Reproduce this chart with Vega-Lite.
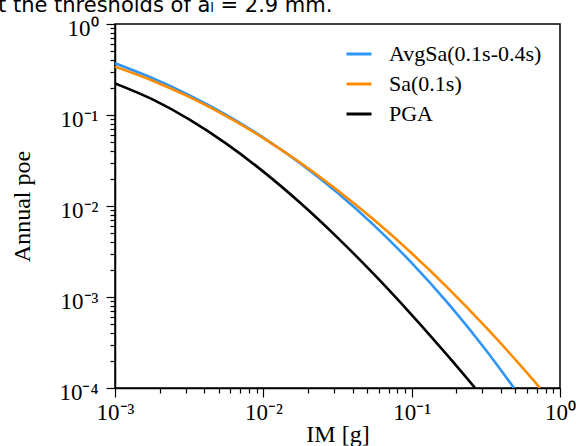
{
  "$schema": "https://vega.github.io/schema/vega-lite/v6.json",
  "width": 445,
  "height": 364,
  "autosize": {"type": "none"},
  "padding": {"left": 115, "top": 24, "right": 16, "bottom": 58},
  "background": "white",
  "title": {
    "text": "t the thresholds of aₗ = 2.9 mm.",
    "anchor": "start",
    "frame": "group",
    "orient": "top",
    "offset": 0,
    "baseline": "alphabetic",
    "dx": -117,
    "dy": 16,
    "font": "DejaVu Sans",
    "fontSize": 21,
    "fontWeight": "normal",
    "color": "black"
  },
  "config": {
    "view": {"stroke": "black", "strokeWidth": 1.5}
  },
  "data": {
    "values": [
      {"im": 0.001, "poe": 0.3698, "series": "AvgSa(0.1s-0.4s)"},
      {"im": 0.001778, "poe": 0.2548, "series": "AvgSa(0.1s-0.4s)"},
      {"im": 0.003162, "poe": 0.1653, "series": "AvgSa(0.1s-0.4s)"},
      {"im": 0.005623, "poe": 0.1002, "series": "AvgSa(0.1s-0.4s)"},
      {"im": 0.01, "poe": 0.05642, "series": "AvgSa(0.1s-0.4s)"},
      {"im": 0.01778, "poe": 0.02931, "series": "AvgSa(0.1s-0.4s)"},
      {"im": 0.03162, "poe": 0.01395, "series": "AvgSa(0.1s-0.4s)"},
      {"im": 0.05623, "poe": 0.006045, "series": "AvgSa(0.1s-0.4s)"},
      {"im": 0.1, "poe": 0.002368, "series": "AvgSa(0.1s-0.4s)"},
      {"im": 0.1778, "poe": 0.0008331, "series": "AvgSa(0.1s-0.4s)"},
      {"im": 0.3162, "poe": 0.0002615, "series": "AvgSa(0.1s-0.4s)"},
      {"im": 0.4898, "poe": 0.0001, "series": "AvgSa(0.1s-0.4s)"},
      {"im": 0.001, "poe": 0.3396, "series": "Sa(0.1s)"},
      {"im": 0.001778, "poe": 0.2398, "series": "Sa(0.1s)"},
      {"im": 0.003162, "poe": 0.1580, "series": "Sa(0.1s)"},
      {"im": 0.005623, "poe": 0.09711, "series": "Sa(0.1s)"},
      {"im": 0.01, "poe": 0.05572, "series": "Sa(0.1s)"},
      {"im": 0.01778, "poe": 0.02984, "series": "Sa(0.1s)"},
      {"im": 0.03162, "poe": 0.01491, "series": "Sa(0.1s)"},
      {"im": 0.05623, "poe": 0.006954, "series": "Sa(0.1s)"},
      {"im": 0.1, "poe": 0.003027, "series": "Sa(0.1s)"},
      {"im": 0.1778, "poe": 0.001230, "series": "Sa(0.1s)"},
      {"im": 0.3162, "poe": 0.0004661, "series": "Sa(0.1s)"},
      {"im": 0.5623, "poe": 0.0001650, "series": "Sa(0.1s)"},
      {"im": 0.7328, "poe": 0.0001, "series": "Sa(0.1s)"},
      {"im": 0.001, "poe": 0.2228, "series": "PGA"},
      {"im": 0.001778, "poe": 0.1493, "series": "PGA"},
      {"im": 0.003162, "poe": 0.08953, "series": "PGA"},
      {"im": 0.005623, "poe": 0.04848, "series": "PGA"},
      {"im": 0.01, "poe": 0.02387, "series": "PGA"},
      {"im": 0.01778, "poe": 0.01078, "series": "PGA"},
      {"im": 0.03162, "poe": 0.004497, "series": "PGA"},
      {"im": 0.05623, "poe": 0.001748, "series": "PGA"},
      {"im": 0.1, "poe": 0.0006372, "series": "PGA"},
      {"im": 0.1778, "poe": 0.0002198, "series": "PGA"},
      {"im": 0.2679, "poe": 0.0001, "series": "PGA"}
    ]
  },
  "mark": {"type": "line", "strokeWidth": 2.6, "interpolate": "monotone", "clip": true},
  "encoding": {
    "x": {
      "field": "im",
      "type": "quantitative",
      "scale": {"type": "log", "domain": [0.001, 1], "nice": false},
      "axis": {
        "values": [0.001, 0.002, 0.003, 0.004, 0.005, 0.006, 0.007, 0.008, 0.009, 0.01, 0.02, 0.03, 0.04, 0.05, 0.06, 0.07, 0.08, 0.09, 0.1, 0.2, 0.3, 0.4, 0.5, 0.6, 0.7, 0.8, 0.9, 1],
        "labelExpr": "abs(log(datum.value)/LN10 - round(log(datum.value)/LN10)) < 0.001 ? ('10' + (datum.value >= 0.5 ? '⁰' : datum.value >= 0.05 ? '⁻¹' : datum.value >= 0.005 ? '⁻²' : '⁻³')) : ''",
        "tickSize": {"condition": {"test": "abs(log(datum.value)/LN10 - round(log(datum.value)/LN10)) < 0.001", "value": 9}, "value": 5},
        "tickColor": "black",
        "tickWidth": 1.2,
        "domainColor": "black",
        "domainWidth": 1.5,
        "grid": false,
        "labelFont": "Liberation Serif",
        "labelFontSize": 23,
        "labelColor": "black",
        "labelPadding": 4,
        "labelOverlap": false,
        "labelFlush": false,
        "title": "IM [g]",
        "titleFont": "Liberation Serif",
        "titleFontSize": 24,
        "titleFontWeight": "normal",
        "titleColor": "black",
        "titleY": 53,
        "titleBaseline": "alphabetic"
      }
    },
    "y": {
      "field": "poe",
      "type": "quantitative",
      "scale": {"type": "log", "domain": [0.0001, 1], "nice": false},
      "axis": {
        "values": [0.0001, 0.0002, 0.0003, 0.0004, 0.0005, 0.0006, 0.0007, 0.0008, 0.0009, 0.001, 0.002, 0.003, 0.004, 0.005, 0.006, 0.007, 0.008, 0.009, 0.01, 0.02, 0.03, 0.04, 0.05, 0.06, 0.07, 0.08, 0.09, 0.1, 0.2, 0.3, 0.4, 0.5, 0.6, 0.7, 0.8, 0.9, 1],
        "labelExpr": "abs(log(datum.value)/LN10 - round(log(datum.value)/LN10)) < 0.001 ? ('10' + (datum.value >= 0.5 ? '⁰' : datum.value >= 0.05 ? '⁻¹' : datum.value >= 0.005 ? '⁻²' : datum.value >= 0.0005 ? '⁻³' : '⁻⁴')) : ''",
        "tickSize": {"condition": {"test": "abs(log(datum.value)/LN10 - round(log(datum.value)/LN10)) < 0.001", "value": 9}, "value": 5},
        "tickColor": "black",
        "tickWidth": 1.2,
        "domainColor": "black",
        "domainWidth": 1.5,
        "grid": false,
        "labelFont": "Liberation Serif",
        "labelFontSize": 23,
        "labelColor": "black",
        "labelPadding": 8,
        "labelOffset": 4,
        "labelOverlap": false,
        "labelFlush": false,
        "title": "Annual poe",
        "titleFont": "Liberation Serif",
        "titleFontSize": 24,
        "titleFontWeight": "normal",
        "titleColor": "black",
        "titlePadding": 24
      }
    },
    "color": {
      "field": "series",
      "type": "nominal",
      "scale": {"domain": ["AvgSa(0.1s-0.4s)", "Sa(0.1s)", "PGA"], "range": ["#2f95f7", "#ff8c00", "#000000"]},
      "legend": {
        "orient": "none",
        "legendX": 230,
        "legendY": 16,
        "title": null,
        "symbolType": "stroke",
        "symbolSize": 625,
        "symbolStrokeWidth": 3,
        "labelFont": "Liberation Serif",
        "labelFontSize": 22,
        "labelColor": "black",
        "labelOffset": 16,
        "rowPadding": 5,
        "padding": 0,
        "labelLimit": 300
      }
    }
  }
}
